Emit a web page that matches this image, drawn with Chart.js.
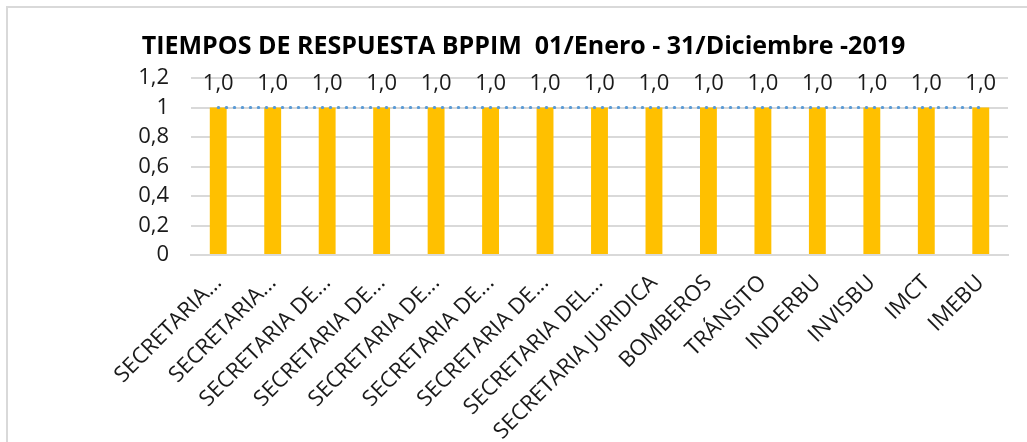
<!DOCTYPE html>
<html>
<head>
<meta charset="utf-8">
<script src="https://cdn.jsdelivr.net/npm/chart.js@4.4.1/dist/chart.umd.min.js"></script>
<style>
    html, body { margin: 0; padding: 0; background: #fff; overflow: hidden; }
    #wrap { position: relative; width: 1027px; height: 442px; }
    #frame { position: absolute; left: 6px; top: 6px; width: 1040px; height: 460px; border: 2px solid #d9d9d9; }
    #chart { position: absolute; left: 0; top: 0; }
</style>
</head>
<body>
<div id="wrap">
    <div id="frame"></div>
    <canvas id="chart" width="1027" height="442"></canvas>
</div>
<script>
var titleText = 'TIEMPOS DE RESPUESTA BPPIM  01/Enero - 31/Diciembre -2019';

var categories = [
    'SECRETARIA...', 'SECRETARIA...', 'SECRETARIA DE...', 'SECRETARIA DE...',
    'SECRETARIA DE...', 'SECRETARIA DE...', 'SECRETARIA DE...', 'SECRETARIA DEL...',
    'SECRETARIA JURIDICA', 'BOMBEROS', 'TRÁNSITO', 'INDERBU', 'INVISBU', 'IMCT', 'IMEBU'
];
var barValues = [1, 1, 1, 1, 1, 1, 1, 1, 1, 1, 1, 1, 1, 1, 1];
var lineValues = [1, 1, 1, 1, 1, 1, 1, 1, 1, 1, 1, 1, 1, 1, 1];
var valueLabels = ['1,0', '1,0', '1,0', '1,0', '1,0', '1,0', '1,0', '1,0', '1,0', '1,0', '1,0', '1,0', '1,0', '1,0', '1,0'];
var yTickLabels = ['0', '0,2', '0,4', '0,6', '0,8', '1', '1,2'];

var FONT = '"Open Sans", sans-serif';

// value labels above the bars ("1,0")
var valueLabelPlugin = {
    id: 'valueLabels',
    afterDatasetsDraw: function (chart) {
        var meta = chart.getDatasetMeta(0);
        var ctx = chart.ctx;
        ctx.save();
        ctx.font = '22px ' + FONT;
        ctx.fillStyle = '#1a1a1a';
        ctx.textAlign = 'center';
        ctx.textBaseline = 'alphabetic';
        for (var i = 0; i < meta.data.length; i++) {
            var bar = meta.data[i];
            ctx.fillText(valueLabels[i], bar.x, bar.y - 18);
        }
        ctx.restore();
    }
};

var chart = new Chart(document.getElementById('chart').getContext('2d'), {
    data: {
        labels: categories,
        datasets: [
            {
                type: 'bar',
                data: barValues,
                backgroundColor: '#ffc000',
                barPercentage: 0.31,
                categoryPercentage: 1,
                order: 2
            },
            {
                type: 'line',
                data: lineValues,
                borderColor: '#5b9bd5',
                borderWidth: 3,
                borderDash: [0.5, 7.5],
                borderCapStyle: 'round',
                pointRadius: 0,
                fill: false,
                tension: 0,
                order: 1
            }
        ]
    },
    options: {
        responsive: false,
        animation: false,
        layout: { padding: { left: 39, right: 19, top: 0, bottom: 0 } },
        plugins: {
            legend: { display: false },
            tooltip: { enabled: false },
            title: {
                display: true,
                text: titleText,
                color: '#000',
                font: { family: FONT, size: 25, weight: 'bold' },
                padding: { top: 32, bottom: 16 }
            }
        },
        scales: {
            x: {
                grid: { display: false, drawTicks: false },
                border: { display: true, color: '#d9d9d9', width: 2 },
                ticks: {
                    color: '#1a1a1a',
                    font: { family: FONT, size: 22 },
                    minRotation: 45,
                    maxRotation: 45,
                    autoSkip: false,
                    padding: 15
                },
                afterFit: function (scale) { scale.height = 187; }
            },
            y: {
                min: 0,
                max: 1.2,
                grid: { color: '#d9d9d9', lineWidth: 2, drawTicks: false },
                border: { display: false },
                ticks: {
                    stepSize: 0.2,
                    color: '#1a1a1a',
                    font: { family: FONT, size: 22 },
                    padding: 22,
                    callback: function (value, index) { return yTickLabels[index]; }
                },
                afterFit: function (scale) { scale.width = 152; }
            }
        }
    },
    plugins: [valueLabelPlugin]
});
</script>
</body>
</html>
